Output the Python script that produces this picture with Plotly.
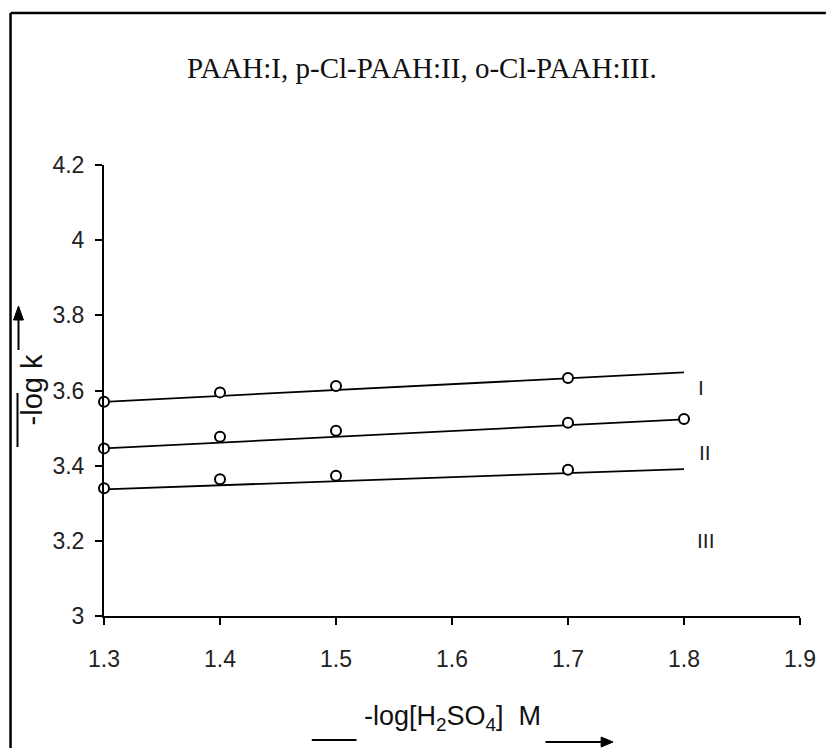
import plotly.graph_objects as go

# ---- data ----
x_pts = [1.3, 1.4, 1.5, 1.7]
y_I = [3.570, 3.595, 3.612, 3.633]
x_II = [1.3, 1.4, 1.5, 1.7, 1.8]
y_II = [3.446, 3.477, 3.493, 3.514, 3.524]
y_III = [3.340, 3.364, 3.373, 3.389]

fit_x = [1.3, 1.8]
fit_I = [3.570, 3.648]
fit_II = [3.446, 3.523]
fit_III = [3.337, 3.391]

series_labels = ["I", "II", "III"]
label_x = [1.815, 1.818, 1.819]
label_y = [3.609, 3.434, 3.202]

x_ticks = [1.3, 1.4, 1.5, 1.6, 1.7, 1.8, 1.9]
y_ticks = [3, 3.2, 3.4, 3.6, 3.8, 4, 4.2]
y_ticktext = ["3", "3.2", "3.4", "3.6", "3.8", "4", "4.2"]

W, H = 828, 748
ML, MR, MT, MB = 104, 24, 165, 132
PW, PH = W - ML - MR, H - MT - MB


def px(xp):
    return (xp - ML) / PW


def py(yp):
    return (H - MB - yp) / PH


fig = go.Figure()

for fy in (fit_I, fit_II, fit_III):
    fig.add_trace(go.Scatter(x=fit_x, y=fy, mode="lines",
                             line=dict(color="black", width=1.8),
                             showlegend=False, hoverinfo="skip"))

marker = dict(symbol="circle", size=10, color="white",
              line=dict(color="black", width=2))
for xs, ys in ((x_pts, y_I), (x_II, y_II), (x_pts, y_III)):
    fig.add_trace(go.Scatter(x=xs, y=ys, mode="markers", marker=marker,
                             showlegend=False, cliponaxis=False))

font_sans = "Liberation Sans, Arial, sans-serif"

for t, lx, ly in zip(series_labels, label_x, label_y):
    fig.add_annotation(x=lx, y=ly, text=t, showarrow=False,
                       xanchor="center", yanchor="middle",
                       font=dict(family=font_sans, size=21, color="#222"))

fig.update_layout(
    width=W, height=H,
    margin=dict(l=ML, r=MR, t=MT, b=MB),
    paper_bgcolor="white", plot_bgcolor="white",
    xaxis=dict(range=[1.3, 1.9], tickvals=x_ticks, ticktext=[f"{v:.1f}" for v in x_ticks],
               showgrid=False, zeroline=False, showline=True, linecolor="black",
               linewidth=2, ticks="outside", ticklen=7, tickwidth=2, tickcolor="black",
               ticklabelstandoff=14,
               tickfont=dict(family=font_sans, size=23, color="#222")),
    yaxis=dict(range=[3, 4.2], tickvals=y_ticks, ticktext=y_ticktext,
               showgrid=False, zeroline=False, showline=True, linecolor="black",
               linewidth=2, ticks="outside", ticklen=7, tickwidth=2, tickcolor="black",
               ticklabelstandoff=6,
               tickfont=dict(family=font_sans, size=23, color="#222")),
)

# title
fig.add_annotation(xref="paper", yref="paper", x=px(424), y=py(68),
                   xanchor="center", yanchor="middle",
                   text="PAAH:I, p-Cl-PAAH:II, o-Cl-PAAH:III.", showarrow=False,
                   font=dict(family="Liberation Serif, Times New Roman, serif", size=29, color="#111"))

# x-axis label
fig.add_annotation(xref="paper", yref="paper", x=px(454), y=py(718),
                   xanchor="center", yanchor="middle",
                   text="-log[H<sub>2</sub>SO<sub>4</sub>]  M", showarrow=False,
                   font=dict(family=font_sans, size=27, color="#111"))
# y-axis label
fig.add_annotation(xref="paper", yref="paper", x=px(32), y=py(390),
                   xanchor="center", yanchor="middle",
                   text="-log k", textangle=-90, showarrow=False,
                   font=dict(family=font_sans, size=29, color="#111"))

shapes = []
# frame (top and left edges)
shapes.append(dict(type="line", xref="paper", yref="paper",
                   x0=px(10), x1=px(830), y0=py(13), y1=py(13),
                   line=dict(color="black", width=2.5)))
shapes.append(dict(type="line", xref="paper", yref="paper",
                   x0=px(10), x1=px(10), y0=py(13), y1=py(750),
                   line=dict(color="black", width=2.5)))
# x label decorations
shapes.append(dict(type="line", xref="paper", yref="paper",
                   x0=px(313), x1=px(358), y0=py(740), y1=py(740),
                   line=dict(color="black", width=2)))
shapes.append(dict(type="line", xref="paper", yref="paper",
                   x0=px(548), x1=px(606), y0=py(742), y1=py(742),
                   line=dict(color="black", width=2)))
shapes.append(dict(type="path", xref="paper", yref="paper",
                   path=f"M {px(604)} {py(737)} L {px(616)} {py(742)} L {px(604)} {py(747)} Z",
                   fillcolor="black", line=dict(color="black", width=1)))
# y label decorations
shapes.append(dict(type="line", xref="paper", yref="paper",
                   x0=px(17), x1=px(17), y0=py(393), y1=py(447),
                   line=dict(color="black", width=2)))
shapes.append(dict(type="line", xref="paper", yref="paper",
                   x0=px(18), x1=px(18), y0=py(350), y1=py(318),
                   line=dict(color="black", width=2)))
shapes.append(dict(type="path", xref="paper", yref="paper",
                   path=f"M {px(13)} {py(320)} L {px(18)} {py(306)} L {px(23)} {py(320)} Z",
                   fillcolor="black", line=dict(color="black", width=1)))
fig.update_layout(shapes=shapes)

fig.write_html("out.html")
